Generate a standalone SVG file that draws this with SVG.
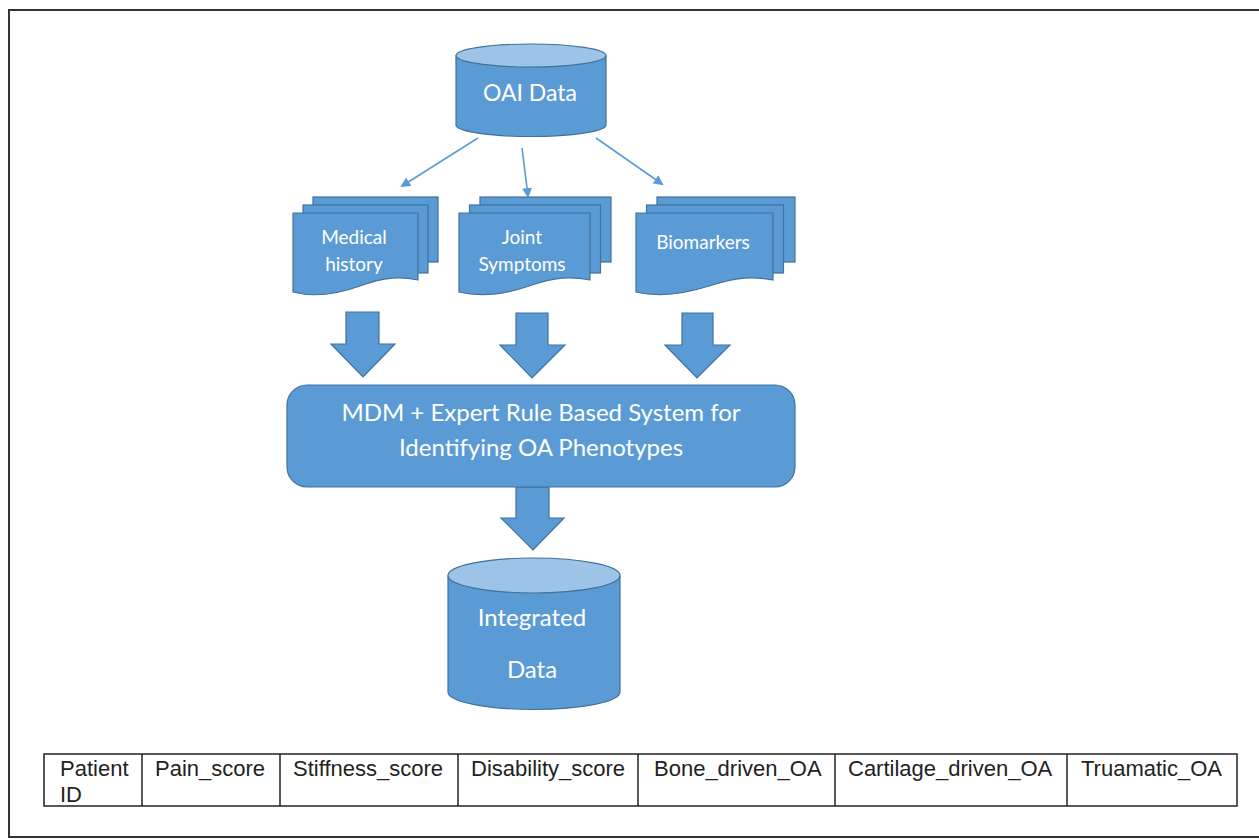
<svg xmlns="http://www.w3.org/2000/svg" width="1259" height="839" viewBox="0 0 1259 839">
<defs>
<style>
.shape{fill:#5B9BD5;stroke:#41719C;stroke-width:1.2}
.top{fill:#9DC3E6;stroke:#41719C;stroke-width:1.2}
.lbl{font-family:Lato,"Open Sans",sans-serif;fill:#ffffff;text-anchor:middle}
.conn{stroke:#5B9BD5;stroke-width:1.6;fill:none}
.cell{fill:none;stroke:#222;stroke-width:1.5}
.ct{font-family:"Liberation Sans",Arial,sans-serif;font-size:22px;fill:#222}
</style>
<marker id="ah" markerWidth="10" markerHeight="10" refX="8" refY="5" orient="auto" markerUnits="userSpaceOnUse">
<path d="M0,0 L10,5 L0,10 Z" fill="#5B9BD5"/>
</marker>
</defs>
<rect width="1259" height="839" fill="#ffffff"/>
<rect x="9" y="10" width="1262" height="827" fill="none" stroke="#333" stroke-width="2"/>

<g id="oai">
<path class="shape" d="M456,55.5 V125 A75,11.5 0 0 0 606,125 V55.5"/>
<ellipse class="top" cx="531" cy="55.5" rx="75" ry="11.5"/>
<text class="lbl" x="530" y="101" font-size="23">OAI Data</text>
</g>

<g id="connectors">
<line class="conn" x1="478" y1="138" x2="402" y2="186" marker-end="url(#ah)"/>
<line class="conn" x1="522" y1="148" x2="528" y2="196" marker-end="url(#ah)"/>
<line class="conn" x1="596" y1="138" x2="662" y2="184" marker-end="url(#ah)"/>
<path class="shape" d="M346,312 H379 V344 H395 L363,377 L331,344 H346 Z"/>
<path class="shape" d="M516,313 H548 V345 H565 L532,378 L500,345 H516 Z"/>
<path class="shape" d="M682,313 H713 V345 H730 L697,378 L665,345 H682 Z"/>
<path class="shape" d="M516,487 H549 V518 H564 L533,550 L501,518 H516 Z"/>
</g>

<g id="medical">
<rect class="shape" x="313" y="197" width="125" height="65"/>
<rect class="shape" x="303" y="205" width="125" height="68"/>
<path class="shape" d="M293,213 H418 V280 C400,276 385,277 360,286 C335,295 312,297 293,292 Z"/>
<text class="lbl" x="354" y="244" font-size="19">Medical</text>
<text class="lbl" x="354" y="271" font-size="19">history</text>
</g>

<g id="joint">
<rect class="shape" x="480" y="197" width="131" height="65"/>
<rect class="shape" x="469.5" y="205" width="131" height="68"/>
<path class="shape" d="M459,213 H590 V280 C571,276 555,277 529,286 C503,295 480,297 459,292 Z"/>
<text class="lbl" x="522" y="244" font-size="19">Joint</text>
<text class="lbl" x="522" y="271" font-size="19">Symptoms</text>
</g>

<g id="biomarkers">
<rect class="shape" x="657" y="197" width="138" height="65"/>
<rect class="shape" x="646.5" y="205" width="137" height="68"/>
<path class="shape" d="M636,213 H773 V280 C753,276 737,277 709,286 C681,295 658,297 636,292 Z"/>
<text class="lbl" x="703" y="249" font-size="19">Biomarkers</text>
</g>

<g id="system">
<rect class="shape" x="287" y="385" width="508" height="102" rx="20" ry="20"/>
<text class="lbl" x="541" y="421" font-size="24">MDM + Expert Rule Based System for</text>
<text class="lbl" x="541" y="456" font-size="24">Identifying OA Phenotypes</text>
</g>

<g id="integrated">
<path class="shape" d="M448,575.5 V692 A86,17.5 0 0 0 620,692 V575.5"/>
<ellipse class="top" cx="534" cy="575.5" rx="86" ry="17.5"/>
<text class="lbl" x="532" y="626" font-size="24">Integrated</text>
<text class="lbl" x="532" y="678" font-size="24">Data</text>
</g>

<g id="table">
<rect class="cell" x="44" y="754" width="1193" height="52"/>
<line class="cell" x1="142" y1="754" x2="142" y2="806"/>
<line class="cell" x1="280" y1="754" x2="280" y2="806"/>
<line class="cell" x1="458" y1="754" x2="458" y2="806"/>
<line class="cell" x1="638" y1="754" x2="638" y2="806"/>
<line class="cell" x1="835" y1="754" x2="835" y2="806"/>
<line class="cell" x1="1067" y1="754" x2="1067" y2="806"/>
<text class="ct" x="60" y="776">Patient</text>
<text class="ct" x="60" y="802">ID</text>
<text class="ct" x="155" y="776">Pain_score</text>
<text class="ct" x="293" y="776">Stiffness_score</text>
<text class="ct" x="471" y="776">Disability_score</text>
<text class="ct" x="654" y="776">Bone_driven_OA</text>
<text class="ct" x="848" y="776">Cartilage_driven_OA</text>
<text class="ct" x="1081" y="776">Truamatic_OA</text>
</g>
</svg>
